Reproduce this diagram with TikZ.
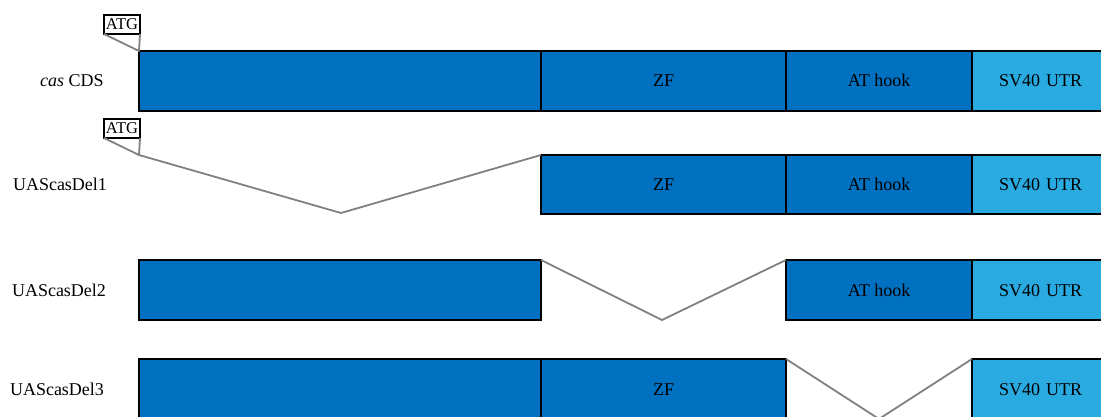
\documentclass[tikz,border=0pt]{standalone}
\usepackage{fontspec}
\setmainfont{Liberation Serif}
\definecolor{domdark}{RGB}{0,112,192}
\definecolor{domlight}{RGB}{41,170,225}
\definecolor{splice}{RGB}{128,128,128}
\tikzset{
  seg/.style={draw=black, line width=2pt, minimum height=60pt, inner sep=0pt,
    outer sep=0pt, anchor=north west, fill=domdark, text height=12pt, text depth=0pt,
    font=\fontsize{18}{21}\selectfont},
  utr/.style={seg, fill=domlight, text width=130pt, align=left},
  atg/.style={draw=black, line width=1.5pt, fill=white, minimum width=36pt,
    minimum height=19pt, inner sep=0pt, outer sep=0pt, anchor=north west,
    font=\fontsize{16.5}{18}\selectfont},
  rowlabel/.style={font=\fontsize{18}{21}\selectfont, inner sep=0pt,
    text height=12pt, text depth=0pt},
  junction/.style={draw=splice, line width=1.8pt, line join=round}
}
\begin{document}
\begin{tikzpicture}[x=1pt, y=-1pt]
\useasboundingbox (0,0) rectangle (1101,417);

% row labels
\node[rowlabel] (l1) at (72,81) {\textit{cas} CDS};
\node[rowlabel] (l2) at (60,184) {UAScasDel1};
\node[rowlabel] (l3) at (59,290) {UAScasDel2};
\node[rowlabel] (l4) at (57,389) {UAScasDel3};

% start codon markers
\node[atg] (atg1) at (104,15) {ATG};
\node[atg] (atg2) at (104,119) {ATG};

% splice points
\coordinate (s1) at (139,51);
\coordinate (s2) at (139,155);
\coordinate (v2) at (341,213);
\coordinate (v3) at (662,320);
\coordinate (v4) at (879,419);

% full coding sequence
\node[seg, minimum width=402pt] (r1a) at (139,51) {};
\node[seg, minimum width=245pt] (r1zf) at (541,51) {ZF};
\node[seg, minimum width=186pt] (r1at) at (786,51) {AT hook};
\node[utr, minimum width=140pt] (r1sv) at (972,51) {\hspace*{22pt}SV40 UTR};

% deletion 1
\node[seg, minimum width=245pt, minimum height=59pt] (r2zf) at (541,155) {ZF};
\node[seg, minimum width=186pt, minimum height=59pt] (r2at) at (786,155) {AT hook};
\node[utr, minimum width=140pt, minimum height=59pt] (r2sv) at (972,155) {\hspace*{22pt}SV40 UTR};

% deletion 2
\node[seg, minimum width=402pt] (r3a) at (139,260) {};
\node[seg, minimum width=186pt] (r3at) at (786,260) {AT hook};
\node[utr, minimum width=140pt] (r3sv) at (972,260) {\hspace*{22pt}SV40 UTR};

% deletion 3
\node[seg, minimum width=402pt] (r4a) at (139,359) {};
\node[seg, minimum width=245pt] (r4zf) at (541,359) {ZF};
\node[utr, minimum width=140pt] (r4sv) at (972,359) {\hspace*{22pt}SV40 UTR};

% junction lines
\draw[junction] (atg1.south west) -- (s1) -- (atg1.south east);
\draw[junction] (atg2.south west) -- (s2) -- (atg2.south east);
\draw[junction] (s2) -- (v2) -- (r2zf.north west);
\draw[junction] (r3a.north east) -- (v3) -- (r3at.north west);
\draw[junction] (r4zf.north east) -- (v4) -- (r4sv.north west);
\end{tikzpicture}
\end{document}
